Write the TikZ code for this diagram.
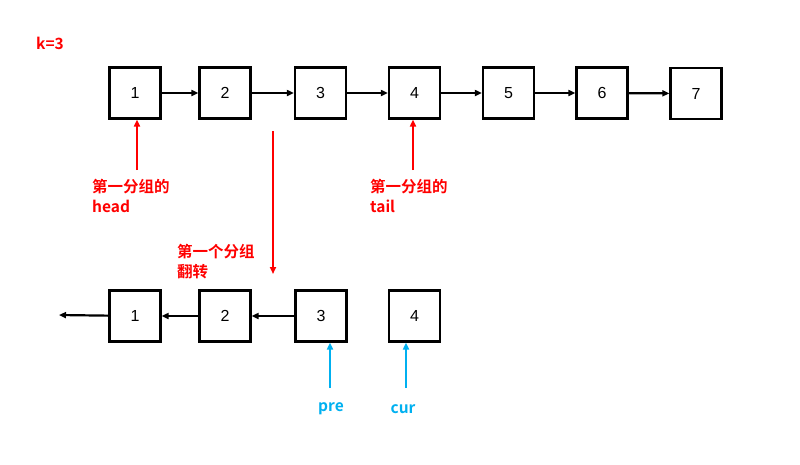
\documentclass[tikz,border=0pt]{standalone}
\usepackage{fontspec}
\setmainfont{Liberation Sans}
\newfontfamily\cjkbold[BoldFont={Noto Sans CJK SC Bold}]{Noto Sans CJK SC Bold}
\usetikzlibrary{arrows.meta}
\definecolor{lred}{HTML}{FF0000}
\definecolor{lblue}{HTML}{00B0F0}
\begin{document}
\begin{tikzpicture}[x=1pt,y=-1pt,
  cell/.style={draw=black,line width=2.2pt,minimum width=51pt,minimum height=51pt,inner sep=0pt,font=\fontsize{16}{16}\selectfont},
  link/.style={line width=2.2pt,-{Triangle[length=7pt,width=6pt]}},
  redarr/.style={draw=lred,line width=2.2pt,-{Triangle[length=7pt,width=6pt]}},
  bluearr/.style={draw=lblue,line width=2.6pt,-{Triangle[length=7pt,width=6pt]}},
  redlbl/.style={text=lred,font=\cjkbold\fontsize{15.5}{20}\selectfont,align=left,inner sep=0pt,anchor=west},
  bluelbl/.style={text=lblue,font=\cjkbold\fontsize{15.5}{20}\selectfont,inner sep=0pt}]
\useasboundingbox (0,0) rectangle (800,464);
% k=3
\node[redlbl] (k) at (36,43) {k=3};
% top row
\node[cell] (t1) at (135,93) {1};
\node[cell] (t2) at (225,93) {2};
\node[cell] (t3) at (320.5,93) {3};
\node[cell] (t4) at (414.5,93) {4};
\node[cell] (t5) at (508.5,93) {5};
\node[cell] (t6) at (602,93) {6};
\node[cell] (t7) at (696,93.5) {7};
\foreach \a/\b in {t1/t2,t2/t3,t3/t4,t4/t5,t5/t6,t6/t7}{\draw[link] (\a) -- (\b);}
% bottom row
\node[cell] (b1) at (135,316) {1};
\node[cell] (b2) at (225,316) {2};
\node[cell] (b3) at (321,316) {3};
\node[cell] (b4) at (414.5,316) {4};
\coordinate (nul) at (59,315);
\draw[link] (b1) -- (nul);
\draw[link] (b2) -- (b1);
\draw[link] (b3) -- (b2);
% red labels
\node[redlbl] (hl) at (92,196) {第一分组的\\head};
\coordinate (hs) at (137,170);
\draw[redarr] (hs) -- (hs |- t1.south);
\node[redlbl] (tl) at (370,196) {第一分组的\\tail};
\coordinate (ts) at (413,170);
\draw[redarr] (ts) -- (ts |- t4.south);
\coordinate (ds) at (273,131);
\coordinate (de) at (273,274);
\draw[redarr] (ds) -- (de);
\node[redlbl] (rl) at (177,262) {第一个分组\\翻转};
% blue labels
\node[bluelbl] (pre) at (331,409) {pre};
\node[bluelbl] (cur) at (403,409) {cur};
\coordinate (ps) at (330,388);
\coordinate (cs) at (406,388);
\draw[bluearr] (ps) -- (ps |- b3.south);
\draw[bluearr] (cs) -- (cs |- b4.south);
\end{tikzpicture}
\end{document}
